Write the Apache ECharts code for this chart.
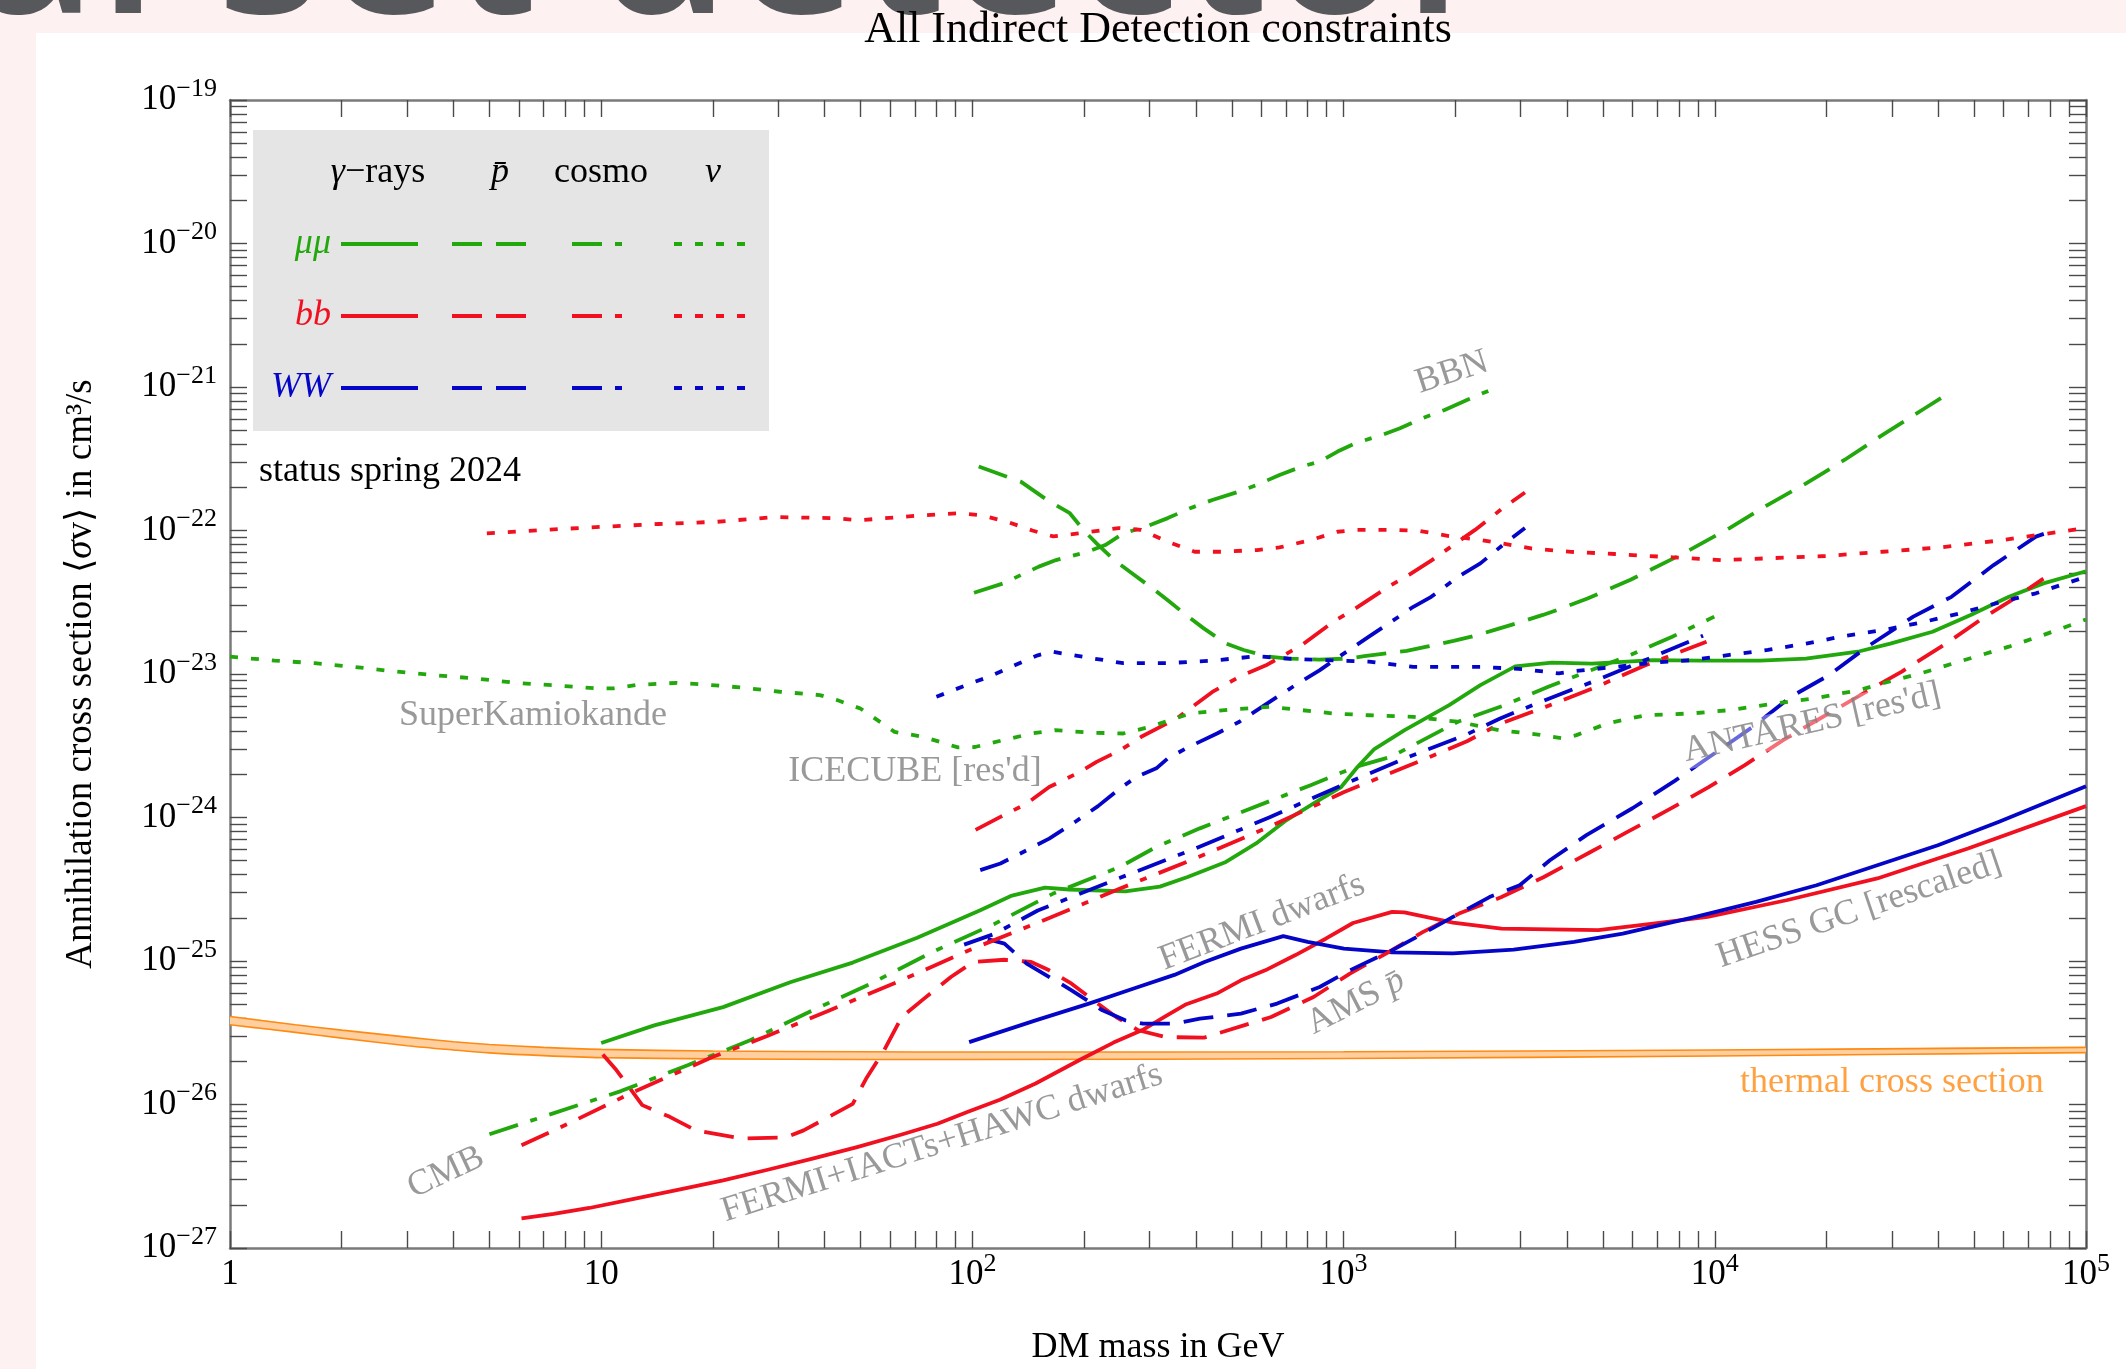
<!DOCTYPE html>
<html><head><meta charset="utf-8">
<script src="https://cdn.jsdelivr.net/npm/echarts@6/dist/echarts.min.js"></script>
<style>html,body{margin:0;padding:0;background:#fff}#c{width:2126px;height:1369px}</style>
</head><body><div id="c"></div>
<script>
// ---------------- data (mass in GeV, <sigma v> in cm^3/s) ----------------
const gammaMuMu = [[10,2.68e-26],[13.9,3.56e-26],[21.3,4.77e-26],[32.3,7.11e-26],[47.6,9.75e-26],[71,1.45e-25],[105,2.26e-25],[127,2.84e-25],[157,3.25e-25],[182,3.15e-25],[258,3.06e-25],[320,3.3e-25],[380,3.85e-25],[482,4.9e-25],[581,6.6e-25],[702,9.6e-25],[850,1.3e-24],[985,1.63e-24],[1090,2.25e-24],[1210,3.0e-24],[1460,4.06e-24],[1925,6.07e-24],[2336,8.37e-24],[2900,1.13e-23],[3640,1.2e-23],[4670,1.18e-23],[6820,1.25e-23],[9070,1.24e-23],[13250,1.24e-23],[17600,1.28e-23],[24560,1.44e-23],[29700,1.63e-23],[38600,1.97e-23],[48900,2.58e-23],[62000,3.45e-23],[76800,4.28e-23],[100000,5.2e-23]];
const gammaBB = [[6.1,1.61e-27],[7.45,1.73e-27],[9.29,1.9e-27],[12.25,2.2e-27],[16.2,2.55e-27],[21.3,2.96e-27],[28.1,3.51e-27],[37.1,4.19e-27],[48.9,5.05e-27],[64.5,6.18e-27],[80.5,7.34e-27],[97.7,8.95e-27],[118.6,1.08e-26],[148,1.4e-26],[195,2.05e-26],[240,2.7e-26],[290,3.35e-26],[330,4.1e-26],[377,5.0e-26],[455,5.93e-26],[529,7.33e-26],[615,8.61e-26],[742,1.1e-25],[895,1.43e-25],[1060,1.84e-25],[1352,2.2e-25],[1458,2.18e-25],[1971,1.85e-25],[2663,1.68e-25],[4856,1.64e-25],[6819,1.82e-25],[9560,2.03e-25],[15600,2.65e-25],[27400,3.76e-25],[48100,6.08e-25],[100000,1.2e-24]];
const gammaWW = [[98,2.72e-26],[148,3.86e-26],[206,5.05e-26],[272,6.43e-26],[350,8.0e-26],[422,9.84e-26],[529,1.22e-25],[688,1.49e-25],[800,1.36e-25],[1002,1.22e-25],[1353,1.15e-25],[1971,1.13e-25],[2871,1.2e-25],[4178,1.36e-25],[5650,1.55e-25],[8870,2.03e-25],[12920,2.58e-25],[18800,3.37e-25],[27400,4.65e-25],[39900,6.4e-25],[58100,9.31e-25],[100000,1.65e-24]];

const pbarMuMu = [[104,2.79e-22],[135,2.19e-22],[159,1.63e-22],[183,1.32e-22],[199,1.01e-22],[216,8.14e-23],[241,6.22e-23],[269,5.03e-23],[310,3.85e-23],[336,3.27e-23],[376,2.58e-23],[420,2.08e-23],[482,1.63e-23],[538,1.47e-23],[618,1.33e-23],[710,1.28e-23],[861,1.26e-23],[1018,1.28e-23],[1137,1.33e-23],[1479,1.45e-23],[1675,1.55e-23],[1978,1.7e-23],[2209,1.82e-23],[2539,2.02e-23],[2916,2.25e-23],[3443,2.58e-23],[3846,2.85e-23],[4540,3.36e-23],[5910,4.52e-23],[8250,6.94e-23],[10960,1.04e-22],[13900,1.51e-22],[17620,2.13e-22],[22340,3.1e-22],[28320,4.64e-22],[36800,7.11e-22],[42950,9.14e-22]];
const pbarBB = [[10.1,2.23e-26],[11,1.73e-26],[11.9,1.32e-26],[12.9,9.9e-27],[15.3,8.2e-27],[18,6.6e-27],[23.8,5.8e-27],[31.4,5.9e-27],[35.1,6.6e-27],[40.3,8.0e-27],[47.6,1.01e-26],[51.7,1.51e-26],[57.8,2.38e-26],[64.5,4.07e-26],[74.1,5.47e-26],[87.5,7.74e-26],[100.5,9.84e-26],[122,1.02e-25],[144,9.84e-26],[161,8.61e-26],[185,6.95e-26],[212,5.32e-26],[244,4.07e-26],[280,3.29e-26],[331,2.95e-26],[420,2.92e-26],[638,4.07e-26],[830,5.61e-26],[1040,8.17e-26],[1304,1.13e-25],[1633,1.59e-25],[2046,2.14e-25],[2663,2.79e-25],[3464,3.85e-25],[4600,5.7e-25],[5800,7.9e-25],[7450,1.12e-24],[9600,1.62e-24],[12050,2.32e-24],[15280,3.46e-24],[18900,4.78e-24],[25150,7.33e-24],[31900,1.04e-23],[41400,1.59e-23],[52500,2.43e-23],[62000,3.18e-23],[76800,4.62e-23]];
const pbarWW = [[110,1.42e-25],[122,1.32e-25],[140,9.6e-26],[185,6.25e-26],[224,4.53e-26],[258,3.86e-26],[288,3.66e-26],[350,3.66e-26],[410,3.96e-26],[529,4.3e-26],[662,5.05e-26],[862,6.59e-26],[1040,8.61e-26],[1353,1.19e-25],[1633,1.55e-25],[1971,2.03e-25],[2472,2.79e-25],[2981,3.37e-25],[3596,5.04e-25],[4510,7.53e-25],[6000,1.16e-24],[7800,1.8e-24],[9970,2.79e-24],[12650,4.28e-24],[16030,6.94e-24],[20320,9.82e-24],[25760,1.55e-23],[34250,2.51e-23],[43420,3.45e-23],[56380,5.74e-23],[73280,9.06e-23],[79000,9.7e-23]];

const cmbMuMu = [[5,6.2e-27],[11.3,1.24e-26],[17.1,1.88e-26],[25.2,2.8e-26],[37.1,4.53e-26],[53.2,6.95e-26],[78.3,1.16e-25],[115,1.82e-25],[165,2.95e-25],[250,4.53e-25],[313,6.24e-25],[410,8.4e-25],[815,1.68e-24],[1076,2.25e-24],[1342,2.65e-24],[2033,4.65e-24],[2683,6.0e-24],[3560,8.15e-24],[3950,9.06e-24],[5776,1.32e-23],[7680,1.82e-23],[9970,2.51e-23]];
const cmbBB = [[6.1,5.2e-27],[8.1,7.3e-27],[12.2,1.22e-26],[20,2.15e-26],[28,3.0e-26],[41,4.5e-26],[64,7.3e-26],[98,1.19e-25],[150,1.85e-25],[250,3.2e-25],[400,5.2e-25],[630,8.6e-25],[1000,1.5e-24],[1500,2.3e-24],[2150,3.4e-24],[2640,4.5e-24],[3500,5.9e-24],[4780,8.1e-24],[6500,1.15e-23],[9500,1.68e-23]];
const cmbWW = [[95,1.3e-25],[115,1.55e-25],[150,2.25e-25],[250,3.8e-25],[400,6.1e-25],[630,1.0e-24],[1000,1.7e-24],[1500,2.65e-24],[2150,3.8e-24],[2640,4.9e-24],[3500,6.6e-24],[4780,9.0e-24],[6500,1.25e-23],[9300,1.85e-23]];
const bbnMuMu = [[101,3.68e-23],[121,4.28e-23],[151,5.6e-23],[168,6.22e-23],[204,7.1e-23],[228,7.92e-23],[255,9.55e-23],[292,1.06e-22],[336,1.22e-22],[386,1.43e-22],[443,1.63e-22],[524,1.87e-22],[585,2.08e-22],[672,2.44e-22],[772,2.79e-22],[862,3.02e-22],[963,3.55e-22],[1076,4.06e-22],[1270,4.64e-22],[1419,5.16e-22],[1630,6.06e-22],[1871,6.92e-22],[2149,8.13e-22],[2574,9.9e-22]];
const bbnBB = [[102,8.2e-25],[119,1.01e-24],[140,1.25e-24],[161,1.63e-24],[195,2.08e-24],[216,2.44e-24],[250,2.94e-24],[285,3.65e-24],[355,4.9e-24],[443,7.5e-24],[524,9.57e-24],[618,1.15e-23],[772,1.59e-23],[937,2.31e-23],[1076,2.86e-23],[1343,4.17e-23],[1500,4.9e-23],[1730,6.22e-23],[1978,7.93e-23],[2260,1.01e-22],[2683,1.43e-22],[3080,1.84e-22]];
const bbnWW = [[105,4.3e-25],[119,4.78e-25],[140,5.91e-25],[161,7.13e-25],[189,9.31e-25],[218,1.2e-24],[250,1.6e-24],[277,1.92e-24],[313,2.2e-24],[336,2.58e-24],[376,3.03e-24],[456,3.85e-24],[524,4.65e-24],[653,6.76e-24],[730,8.15e-24],[861,1.06e-23],[989,1.36e-23],[1170,1.82e-23],[1343,2.31e-23],[1541,2.94e-23],[1722,3.45e-23],[2033,4.76e-23],[2336,5.9e-23],[2683,7.92e-23],[3080,1.04e-22]];

const nuMuMu = [[1,1.32e-23],[1.32,1.24e-23],[1.69,1.19e-23],[2.17,1.12e-23],[2.79,1.04e-23],[3.57,9.8e-24],[4.59,9.3e-24],[5.88,8.68e-24],[7.55,8.32e-24],[9.68,7.94e-24],[10.8,7.94e-24],[12.4,8.37e-24],[16,8.68e-24],[18.4,8.5e-24],[23.6,8.07e-24],[30.3,7.52e-24],[38.8,7.13e-24],[43.2,6.58e-24],[49.9,5.75e-24],[55.5,4.77e-24],[61.7,3.95e-24],[73.7,3.65e-24],[91.4,3.08e-24],[101.6,3.1e-24],[121,3.46e-24],[146,3.87e-24],[167,4.06e-24],[210,3.9e-24],[255,3.85e-24],[301,4.28e-24],[386,5.31e-24],[495,5.66e-24],[635,5.9e-24],[772,5.6e-24],[937,5.31e-24],[1170,5.16e-24],[1541,5.03e-24],[2033,4.65e-24],[2620,4.06e-24],[3300,3.8e-24],[3900,3.56e-24],[4240,3.75e-24],[5130,4.52e-24],[6500,5.16e-24],[8650,5.31e-24],[10960,5.6e-24],[14580,6.24e-24],[18490,6.76e-24],[24560,7.73e-24],[28310,8.61e-24],[35900,1.01e-23],[45530,1.22e-23],[62000,1.55e-23],[76800,1.87e-23],[100000,2.4e-23]];
const nuBB = [[4.92,9.55e-23],[7.03,1.01e-22],[10,1.06e-22],[14.3,1.11e-22],[20.5,1.15e-22],[29.2,1.24e-22],[41.7,1.22e-22],[49.9,1.18e-22],[71.2,1.27e-22],[92,1.32e-22],[105,1.28e-22],[124,1.15e-22],[145,1.0e-22],[165,9.1e-23],[193,9.55e-23],[248,1.04e-22],[285,1.01e-22],[336,8.35e-23],[397,7.11e-23],[469,7.11e-23],[585,7.31e-23],[672,7.62e-23],[815,8.57e-23],[963,9.8e-23],[1076,1.01e-22],[1343,1.01e-22],[1585,9.97e-23],[1923,9.15e-23],[2270,8.69e-23],[2620,8.2e-23],[3200,7.5e-23],[4100,7.1e-23],[5380,6.86e-23],[7680,6.5e-23],[10450,6.22e-23],[13900,6.4e-23],[19850,6.64e-23],[28300,7.11e-23],[40450,7.62e-23],[57800,8.49e-23],[76800,9.44e-23],[100000,1.04e-22]];
const nuWW = [[80,6.94e-24],[101.6,8.83e-24],[111,9.57e-24],[130,1.15e-23],[150,1.35e-23],[164,1.43e-23],[205,1.3e-23],[255,1.19e-23],[336,1.19e-23],[443,1.24e-23],[585,1.33e-23],[710,1.28e-23],[886,1.25e-23],[1170,1.22e-23],[1541,1.12e-23],[2336,1.12e-23],[3060,1.08e-23],[3800,1.01e-23],[4240,1.05e-23],[5380,1.12e-23],[6820,1.2e-23],[8650,1.25e-23],[10960,1.36e-23],[13900,1.47e-23],[17620,1.63e-23],[22340,1.84e-23],[28320,2.02e-23],[35900,2.28e-23],[45530,2.64e-23],[57800,3.13e-23],[73280,3.65e-23],[100000,4.76e-23]];

const thermalMass = [1,1.5,2,3,4,5,7,10,20,50,100,1000,10000,100000];
const thermalHigh = [4.1e-26,3.6e-26,3.3e-26,2.95e-26,2.74e-26,2.62e-26,2.5e-26,2.42e-26,2.36e-26,2.33e-26,2.32e-26,2.33e-26,2.4e-26,2.5e-26];
const thermalLow  = [3.6e-26,3.18e-26,2.9e-26,2.57e-26,2.4e-26,2.29e-26,2.19e-26,2.12e-26,2.08e-26,2.06e-26,2.06e-26,2.09e-26,2.18e-26,2.3e-26];

const xTickLabels = [1,10,100,1000,10000,100000];
const yTickLabels = [1e-27,1e-26,1e-25,1e-24,1e-23,1e-22,1e-21,1e-20,1e-19];

const annoText = ['SuperKamiokande',"ICECUBE [res'd]",'CMB','FERMI+IACTs+HAWC dwarfs','FERMI dwarfs','AMS {i|p\u0304}','HESS GC [rescaled]',"ANTARES [res'd]",'BBN','thermal cross section'];
const annoAnchor = [[6.55,5.16e-24],[70,2.08e-24],[3.82,3.36e-27],[82.8,5.37e-27],[603,1.86e-25],[1080,5.15e-26],[24500,2.26e-25],[18270,4.56e-24],[1960,1.26e-21],[30000,1.43e-26]];

// ---------------- styling ----------------
const SERIF = "'Liberation Serif','DejaVu Serif',serif";
const GREEN = '#22a80d', RED = '#f0101f', BLUE = '#0505c8', GREY = '#808080', ORANGE = '#ff8a12';
const SOLID = 'solid', DASHED = [30,14], DASHDOT = [30,13,7,13], DOTTED = [8,13];
const LW = 3.8;
const annoAngle = [0,0,25,17.5,21,27,18.8,12.8,18,0];

function lineSeries(name, data, color, type) {
  return {name, type:'line', data, showSymbol:false, symbol:'none', silent:true, z:3,
    lineStyle:{color, width:LW, type, cap:'butt', join:'round'}, itemStyle:{color}};
}
const nudge = (arr) => { const a = arr.slice(); a[0] = a[0]*1.000001; a[a.length-1] = a[a.length-1]*0.999999; return a; };
function decadeTicks(lo, hi) { const t = []; for (let d = lo; d < hi; d++) for (let k = 1; k < 10; k++) t.push(k*Math.pow(10,d)); t.push(Math.pow(10,hi)); return nudge(t); }
const xTicks = decadeTicks(0,5);
const yTicks = decadeTicks(-27,-19);

const richNum = {
  b:{fontSize:35, fontFamily:SERIF, color:'#000', lineHeight:46},
  s:{fontSize:26, fontFamily:SERIF, color:'#000', lineHeight:46, padding:[0,0,22,0]}
};
const fmtX = v => { const e = Math.round(Math.log10(v)); if (e===0) return '{b|1}'; if (e===1) return '{b|10}'; return '{b|10}{s|'+e+'}'; };
const fmtY = v => { const e = Math.round(Math.log10(v)); return '{b|10}{s|\u2212'+(-e)+'}'; };

const axisLineStyle = {color:'#7a7a7a', width:2.5};
const tickStyle = {color:'#4a4a4a', width:1.4};
function xAxisCfg(pos, labels) {
  return {type:'log', logBase:10, min:1, max:100000, position:pos,
    axisLine:{show:true, onZero:false, lineStyle:axisLineStyle},
    axisTick:{show:true, inside:true, length:17, customValues:xTicks, lineStyle:tickStyle},
    minorTick:{show:false}, splitLine:{show:false},
    axisLabel: labels ? {show:true, customValues:nudge(xTickLabels), formatter:fmtX, rich:richNum, margin:4} : {show:false},
    name: labels ? 'DM mass in GeV' : '', nameLocation:'middle', nameGap:82,
    nameTextStyle:{fontSize:36, fontFamily:SERIF, color:'#000'}};
}
function yAxisCfg(pos, labels) {
  return {type:'log', logBase:10, min:1e-27, max:1e-19, position:pos,
    axisLine:{show:true, onZero:false, lineStyle:axisLineStyle},
    axisTick:{show:true, inside:true, length:17, customValues:yTicks, lineStyle:tickStyle},
    minorTick:{show:false}, splitLine:{show:false},
    axisLabel: labels ? {show:true, customValues:nudge(yTickLabels), formatter:fmtY, rich:richNum, margin:13} : {show:false},
    name: labels ? 'Annihilation cross section \u27e8{i|\u03c3}v\u27e9 in cm\u00b3/s' : '', nameLocation:'middle', nameGap:130,
    nameTextStyle:{fontSize:37, fontFamily:SERIF, color:'#000', rich:{i:{fontSize:37, fontFamily:SERIF, fontStyle:'italic', color:'#000'}}}};
}

// ---------------- legend block (graphic) ----------------
const legRowsY = [244,316,388];
const legColors = [GREEN, RED, BLUE];
const legNames = ['\u03bc\u03bc','bb','WW'];
const legCols = [[341,418,SOLID],[452,529,DASHED],[572,626,DASHDOT],[674,745,DOTTED]];
const graphics = [
  {type:'rect', z:-10, shape:{x:0,y:0,width:2126,height:33}, style:{fill:'#fdf2f1'}},
  {type:'rect', z:-10, shape:{x:0,y:0,width:36,height:1369}, style:{fill:'#fdf2f1'}},
  {type:'text', z:-9, x:-30, y:-50, style:{text:'al set detector', fontSize:220, fontWeight:600, fontFamily:"'Open Sans','Liberation Sans',sans-serif", fill:'#57585b', verticalAlign:'middle', align:'left'}},
  {type:'rect', z:20, shape:{x:253,y:130,width:516,height:301}, style:{fill:'#e5e5e5'}},
  {type:'text', z:21, x:378, y:173, style:{text:'{i|\u03b3}\u2212rays', fontSize:36, fontFamily:SERIF, fill:'#000', align:'center', verticalAlign:'middle', rich:{i:{fontSize:36, fontFamily:SERIF, fontStyle:'italic', fill:'#000'}}}},
  {type:'text', z:21, x:500, y:173, style:{text:'p\u0304', fontSize:36, fontFamily:SERIF, fontStyle:'italic', fill:'#000', align:'center', verticalAlign:'middle'}},
  {type:'text', z:21, x:601, y:173, style:{text:'cosmo', fontSize:36, fontFamily:SERIF, fill:'#000', align:'center', verticalAlign:'middle'}},
  {type:'text', z:21, x:713, y:173, style:{text:'\u03bd', fontSize:36, fontFamily:SERIF, fontStyle:'italic', fill:'#000', align:'center', verticalAlign:'middle'}},
  {type:'text', z:21, x:259, y:472, style:{text:'status spring 2024', fontSize:36, fontFamily:SERIF, fill:'#000', align:'left', verticalAlign:'middle'}}
];
legRowsY.forEach((y, r) => {
  graphics.push({type:'text', z:21, x:331, y:y, style:{text:legNames[r], fontSize:36, fontFamily:SERIF, fontStyle:'italic', fill:legColors[r], align:'right', verticalAlign:'middle'}});
  legCols.forEach(c => graphics.push({type:'line', z:21, shape:{x1:c[0], y1:y, x2:c[1], y2:y},
    style:{stroke:legColors[r], lineWidth:4, lineDash: c[2]===SOLID ? null : c[2], lineCap:'butt'}}));
});

// ---------------- series ----------------
const series = [
  {name:'thermal band', type:'custom', silent:true, z:1, clip:true,
    data: thermalMass.map((m,i)=>[m, thermalLow[i], thermalHigh[i]]),
    encode:{x:0, y:[1,2]},
    renderItem: (params, api) => {
      if (params.dataIndex !== 0) return null;
      const upper = thermalMass.map((m,i)=>api.coord([m, thermalHigh[i]]));
      const lower = thermalMass.map((m,i)=>api.coord([m, thermalLow[i]])).reverse();
      return {type:'polygon', shape:{points: upper.concat(lower), smooth:0.3}, style:{fill:'#ffcf9f', stroke:null}};
    }},
  {name:'thermal upper', type:'line', data: thermalMass.map((m,i)=>[m, thermalHigh[i]]), showSymbol:false, symbol:'none', silent:true, z:2, smooth:0.3,
    lineStyle:{color:ORANGE, width:1.6}},
  {name:'thermal lower', type:'line', data: thermalMass.map((m,i)=>[m, thermalLow[i]]), showSymbol:false, symbol:'none', silent:true, z:2, smooth:0.3,
    lineStyle:{color:ORANGE, width:1.6}},
  lineSeries('\u03b3-rays \u03bc\u03bc', gammaMuMu, GREEN, SOLID),
  lineSeries('\u03b3-rays bb', gammaBB, RED, SOLID),
  lineSeries('\u03b3-rays WW', gammaWW, BLUE, SOLID),
  lineSeries('pbar \u03bc\u03bc', pbarMuMu, GREEN, DASHED),
  lineSeries('pbar bb', pbarBB, RED, DASHED),
  lineSeries('pbar WW', pbarWW, BLUE, DASHED),
  lineSeries('CMB \u03bc\u03bc', cmbMuMu, GREEN, DASHDOT),
  lineSeries('CMB bb', cmbBB, RED, DASHDOT),
  lineSeries('CMB WW', cmbWW, BLUE, DASHDOT),
  lineSeries('BBN \u03bc\u03bc', bbnMuMu, GREEN, DASHDOT),
  lineSeries('BBN bb', bbnBB, RED, DASHDOT),
  lineSeries('BBN WW', bbnWW, BLUE, DASHDOT),
  lineSeries('\u03bd \u03bc\u03bc', nuMuMu, GREEN, DOTTED),
  lineSeries('\u03bd bb', nuBB, RED, DOTTED),
  lineSeries('\u03bd WW', nuWW, BLUE, DOTTED),
  {name:'labels', type:'scatter', silent:true, z:10, symbolSize:1, itemStyle:{color:'transparent'},
    data: annoText.map((t,i)=>{
      const lab = {formatter: () => t, rotate: annoAngle[i]};
      if (t.indexOf('ANTARES')===0) { lab.backgroundColor = 'rgba(255,255,255,0.5)'; lab.padding = [0,2,0,2]; }
      if (t.indexOf('thermal')===0) { lab.color = ORANGE; }
      return {value: annoAnchor[i], label: lab};
    }),
    label:{show:true, position:'inside', fontSize:36, fontFamily:SERIF, color:GREY,
      rich:{i:{fontSize:36, fontFamily:SERIF, fontStyle:'italic', color:GREY}}}}
];

const chart = echarts.init(document.getElementById('c'), null, {renderer:'canvas', width:2126, height:1369});
chart.setOption({
  animation:false,
  backgroundColor:'#ffffff',
  title:{text:'All Indirect Detection constraints', left:1158, top:30, textAlign:'center', textVerticalAlign:'middle', padding:0,
    textStyle:{fontSize:44, fontWeight:'normal', fontFamily:SERIF, color:'#000'}},
  grid:{left:230, top:100, width:1856, height:1148, containLabel:false, outerBoundsMode:'none'},
  xAxis:[xAxisCfg('bottom', true), xAxisCfg('top', false)],
  yAxis:[yAxisCfg('left', true), yAxisCfg('right', false)],
  graphic: graphics,
  series: series
});
</script></body></html>
